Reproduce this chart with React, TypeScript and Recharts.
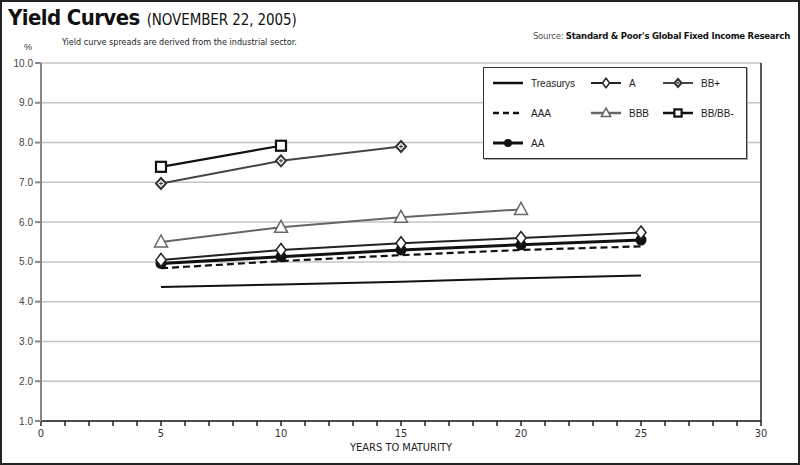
import { LineChart, Line, XAxis, YAxis, CartesianGrid, ReferenceLine } from "recharts";

const YEARS = [5, 10, 15, 20, 25];
const TREASURYS = [4.37, 4.43, 4.5, 4.59, 4.66];
const AAA = [4.84, 5.02, 5.17, 5.3, 5.39];
const AA = [4.96, 5.13, 5.3, 5.43, 5.55];
const A = [5.05, 5.3, 5.47, 5.6, 5.74];
const BBB = [5.5, 5.87, 6.12, 6.32];
const BB_PLUS = [6.97, 7.54, 7.9];
const BB_MINUS = [7.39, 7.92];

const X_TICKS = Array.from({ length: 31 }, (_, i) => i);
const Y_TICKS = [1, 2, 3, 4, 5, 6, 7, 8, 9, 10];

const data = YEARS.map((year, i) => ({
  year,
  treasurys: TREASURYS[i],
  aaa: AAA[i],
  aa: AA[i],
  a: A[i],
  bbb: BBB[i],
  bbPlus: BB_PLUS[i],
  bbMinus: BB_MINUS[i],
}));

const NARROW = "'Liberation Sans Narrow', 'DejaVu Sans Condensed', Arial, sans-serif";
const SANS = "'Liberation Sans', Arial, sans-serif";

// marker shapes (s = scale, smaller in the legend)
const Circle = ({ cx, cy, s = 1 }: any) =>
  cy == null ? null : <circle cx={cx} cy={cy} r={5.5 * s} fill="#111" />;

const Diamond = ({ cx, cy, s = 1 }: any) =>
  cy == null ? null : (
    <path
      d={`M${cx},${cy - 6.5 * s}L${cx + 5 * s},${cy}L${cx},${cy + 6.5 * s}L${cx - 5 * s},${cy}Z`}
      fill="#fff"
      stroke="#222"
      strokeWidth={1.5}
    />
  );

const Triangle = ({ cx, cy, s = 1 }: any) =>
  cy == null ? null : (
    <path
      d={`M${cx},${cy - 7 * s}L${cx + 6.5 * s},${cy + 5 * s}L${cx - 6.5 * s},${cy + 5 * s}Z`}
      fill="#fff"
      stroke="#666"
      strokeWidth={1.5}
    />
  );

const StarDiamond = ({ cx, cy, s = 1 }: any) =>
  cy == null ? null : (
    <g>
      <path
        d={`M${cx},${cy - 5.5 * s}L${cx + 5 * s},${cy}L${cx},${cy + 5.5 * s}L${cx - 5 * s},${cy}Z`}
        fill="#fff"
        stroke="#333"
        strokeWidth={2}
      />
      <path d={`M${cx - 2 * s},${cy}L${cx + 2 * s},${cy}M${cx},${cy - 2 * s}L${cx},${cy + 2 * s}`} stroke="#333" strokeWidth={1} />
    </g>
  );

const Square = ({ cx, cy, s = 1 }: any) =>
  cy == null ? null : (
    <rect x={cx - 5 * s} y={cy - 5 * s} width={10 * s} height={10 * s} fill="#fff" stroke="#111" strokeWidth={2.2} />
  );

const XTick = ({ x, y, payload }: any) =>
  payload.value % 5 === 0 ? (
    <text x={x} y={y + 9} textAnchor="middle" fontFamily={NARROW} fontSize={11} fill="#333">
      {payload.value}
    </text>
  ) : null;

const LEGEND_ROWS = [
  [
    { label: "Treasurys", stroke: "#111", width: 2.5, dash: undefined, marker: null },
    { label: "A", stroke: "#222", width: 2, dash: undefined, marker: Diamond },
    { label: "BB+", stroke: "#444", width: 2, dash: undefined, marker: StarDiamond },
  ],
  [
    { label: "AAA", stroke: "#111", width: 2.5, dash: "6 4", marker: null },
    { label: "BBB", stroke: "#666", width: 2.5, dash: undefined, marker: Triangle },
    { label: "BB/BB-", stroke: "#111", width: 2.5, dash: undefined, marker: Square },
  ],
  [{ label: "AA", stroke: "#111", width: 3, dash: undefined, marker: Circle }],
];

function LegendBox() {
  return (
    <div
      style={{
        position: "absolute",
        left: 483,
        top: 67,
        width: 264,
        height: 92,
        boxSizing: "border-box",
        border: "1px solid #333",
        background: "#fff",
        boxShadow: "1px 1px 0 #aaa",
        fontFamily: SANS,
        fontSize: 10,
        color: "#222",
      }}
    >
      {LEGEND_ROWS.map((row, r) =>
        row.map((item, c) => {
          const Marker = item.marker as any;
          return (
            <div
              key={item.label}
              style={{ position: "absolute", left: [8, 106, 178][c], top: 5 + r * 30, display: "flex", alignItems: "center", height: 20 }}
            >
              <svg width={32} height={20}>
                <line x1={1} y1={10} x2={31} y2={10} stroke={item.stroke} strokeWidth={item.width} strokeDasharray={item.dash} />
                {Marker ? <Marker cx={16} cy={10} s={0.72} /> : null}
              </svg>
              <span style={{ marginLeft: 7 }}>{item.label}</span>
            </div>
          );
        })
      )}
    </div>
  );
}

export default function App() {
  return (
    <div
      style={{
        position: "absolute",
        left: 0,
        top: 0,
        width: 800,
        height: 465,
        boxSizing: "border-box",
        border: "2px solid #222",
        background: "#fff",
        overflow: "hidden",
      }}
    >
      <div style={{ position: "absolute", left: -2, top: -2, width: 800, height: 465 }}>
        <div style={{ position: "absolute", left: 8, top: 5, whiteSpace: "nowrap", fontFamily: NARROW, color: "#111" }}>
          <span style={{ fontSize: 22, fontWeight: 700, letterSpacing: -0.6 }}>Yield Curves</span>
          <span style={{ fontSize: 15, marginLeft: 7, letterSpacing: -0.1 }}>(NOVEMBER 22, 2005)</span>
        </div>
        <div style={{ position: "absolute", left: 62, top: 37, fontFamily: NARROW, fontSize: 9, color: "#222" }}>
          Yield curve spreads are derived from the industrial sector.
        </div>
        <div style={{ position: "absolute", left: 24, top: 42, fontFamily: SANS, fontSize: 9, color: "#333" }}>%</div>
        <div
          style={{
            position: "absolute",
            right: 10,
            top: 30,
            fontFamily: NARROW,
            fontSize: 9.5,
            letterSpacing: -0.25,
            color: "#111",
            whiteSpace: "nowrap",
          }}
        >
          <span style={{ color: "#555" }}>Source: </span>
          <span style={{ fontWeight: 700 }}>Standard &amp; Poor's Global Fixed Income Research</span>
        </div>

        <LineChart width={800} height={465} data={data} margin={{ top: 63, right: 39, bottom: 14, left: 0 }}>
          <CartesianGrid vertical={false} stroke="#c4c4c4" strokeWidth={1.5} />
          <XAxis
            dataKey="year"
            type="number"
            domain={[0, 30]}
            ticks={X_TICKS}
            interval={0}
            height={30}
            stroke="#222"
            strokeWidth={1.5}
            tickSize={5}
            tick={<XTick />}
            label={{ value: "YEARS TO MATURITY", position: "insideBottom", offset: 0, fontFamily: NARROW, fontSize: 11, fill: "#222" }}
          />
          <YAxis
            type="number"
            domain={[1, 10]}
            ticks={Y_TICKS}
            interval={0}
            width={41}
            stroke="#888"
            strokeWidth={2}
            tickSize={6}
            tickFormatter={(v: number) => v.toFixed(1)}
            tick={{ fontFamily: SANS, fontSize: 10, fill: "#444" }}
          />
          <ReferenceLine x={30} stroke="#222" strokeWidth={1.5} />
          <Line dataKey="treasurys" stroke="#111" strokeWidth={2} dot={false} isAnimationActive={false} />
          <Line dataKey="aaa" stroke="#111" strokeWidth={2.2} strokeDasharray="7 4" dot={false} isAnimationActive={false} />
          <Line dataKey="aa" stroke="#111" strokeWidth={3} dot={<Circle />} isAnimationActive={false} />
          <Line dataKey="a" stroke="#222" strokeWidth={2} dot={<Diamond />} isAnimationActive={false} />
          <Line dataKey="bbb" stroke="#666" strokeWidth={2} dot={<Triangle />} isAnimationActive={false} />
          <Line dataKey="bbPlus" stroke="#444" strokeWidth={2} dot={<StarDiamond />} isAnimationActive={false} />
          <Line dataKey="bbMinus" stroke="#111" strokeWidth={2.2} dot={<Square />} isAnimationActive={false} />
        </LineChart>
        <LegendBox />
      </div>
    </div>
  );
}
